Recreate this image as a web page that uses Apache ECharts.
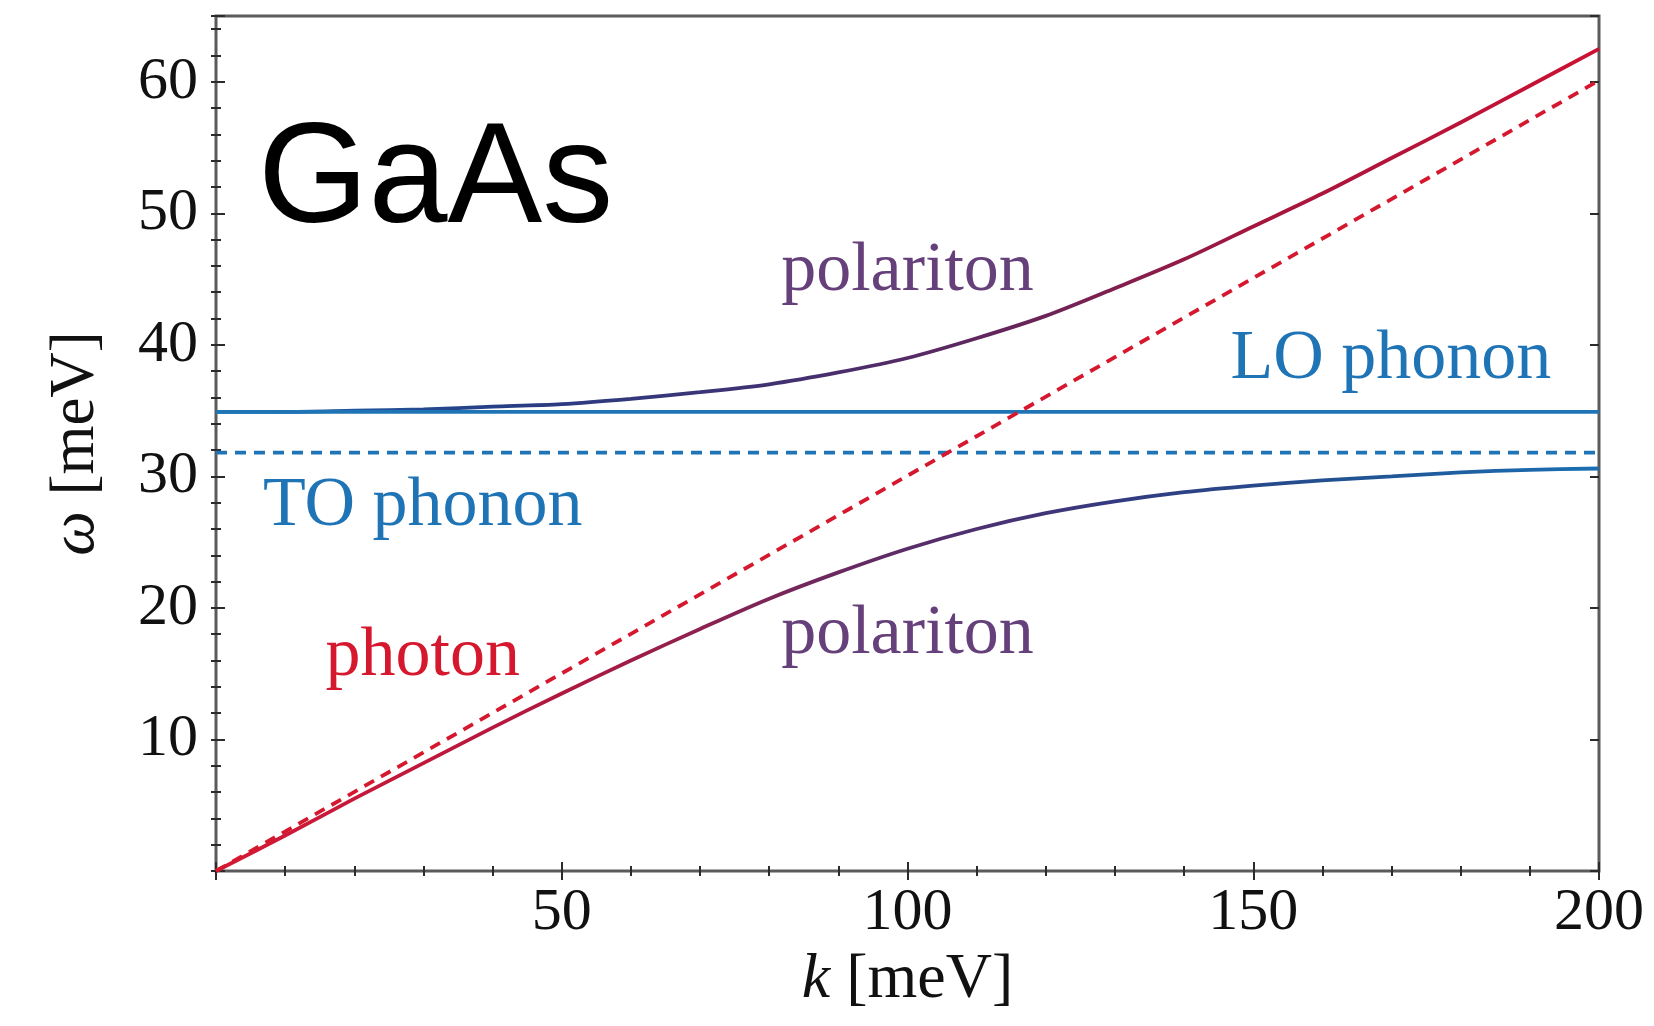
<!DOCTYPE html>
<html>
<head>
<meta charset="utf-8">
<title>GaAs phonon-polariton dispersion</title>
<script src="https://cdn.jsdelivr.net/npm/echarts@6/dist/echarts.min.js"></script>
<style>
  html, body { margin: 0; padding: 0; background: #ffffff; }
  #chart { width: 1654px; height: 1026px; }
</style>
</head>
<body>
<div id="chart"></div>
<script>
// Wavevector samples k (meV) and the two polariton branches ω(k) (meV)
const kSamples = [0, 10, 20, 30, 40, 50, 60, 70, 80, 90, 100, 110, 120, 130, 140, 150, 160, 170, 180, 190, 200];
const upperPolariton = [34.9, 34.9, 35.0, 35.1, 35.3, 35.5, 35.9, 36.4, 37.0, 37.9, 39.0, 40.5, 42.2, 44.3, 46.5, 49.0, 51.5, 54.2, 56.9, 59.7, 62.5];
const lowerPolariton = [0, 2.7, 5.5, 8.2, 10.9, 13.5, 16.0, 18.4, 20.7, 22.7, 24.5, 26.0, 27.2, 28.1, 28.8, 29.3, 29.7, 30.0, 30.3, 30.5, 30.6];

// Bare photon line and the two optical phonon levels
const photonK = [0, 200];
const photonOmega = [0, 60.1];
const phononK = [0, 200];
const loPhonon = [34.9, 34.9];
const toPhonon = [31.8, 31.8];

// Tick labels
const xTickLabels = [50, 100, 150, 200];
const yTickLabels = [10, 20, 30, 40, 50, 60];

const zip = (xs, ys) => xs.map((x, i) => [x, ys[i]]);

const SERIF = '"Liberation Serif", "DejaVu Serif", serif';
const FRAME = '#5b5b5b';
const TICK = '#2b2b2b';
const BLUE = '#1f74b6';
const RED = '#d6182f';
const PURPLE = '#66407a';

const grad = (stops) => new echarts.graphic.LinearGradient(0, 0, 1, 0,
  stops.map(([offset, color]) => ({ offset, color })));

const gridRect = { left: 216, top: 16, width: 1383, height: 855 };

const tickStyle = { color: TICK, width: 2 };

function textMark(text, color, coord) {
  return {
    symbol: 'circle',
    symbolSize: 1,
    silent: true,
    itemStyle: { color: 'rgba(0,0,0,0)' },
    label: {
      show: true, position: 'inside', formatter: text,
      color, fontFamily: SERIF, fontSize: 70
    },
    data: [{ coord }]
  };
}

const chart = echarts.init(document.getElementById('chart'), null, { renderer: 'canvas' });

chart.setOption({
  animation: false,
  backgroundColor: '#ffffff',
  grid: [
    Object.assign({ show: true, borderColor: FRAME, borderWidth: 3, backgroundColor: 'transparent' }, gridRect),
    Object.assign({ show: false }, gridRect)
  ],
  xAxis: [
    {
      gridIndex: 0, type: 'value', position: 'bottom', min: 0, max: 200, interval: 50,
      axisLine: { show: false },
      axisTick: { show: true, inside: true, length: 9, lineStyle: tickStyle },
      minorTick: { show: true, splitNumber: 5, length: 5, lineStyle: tickStyle },
      splitLine: { show: false }, minorSplitLine: { show: false },
      axisLabel: {
        margin: 12, color: '#111', fontFamily: SERIF, fontSize: 60,
        formatter: (v) => xTickLabels.includes(v) ? String(v) : ''
      },
      name: '{i|k} [meV]', nameLocation: 'middle', nameGap: 72,
      nameTextStyle: {
        color: '#111', fontFamily: SERIF, fontSize: 64,
        rich: { i: { fontStyle: 'italic', fontFamily: SERIF, fontSize: 64, color: '#111' } }
      }
    },
    {
      gridIndex: 0, type: 'value', position: 'top', min: 0, max: 200, interval: 50,
      axisLine: { show: false },
      axisTick: { show: true, inside: true, length: 9, lineStyle: tickStyle },
      minorTick: { show: true, splitNumber: 5, length: 5, lineStyle: tickStyle },
      splitLine: { show: false }, minorSplitLine: { show: false },
      axisLabel: { show: false }
    },
    { gridIndex: 1, type: 'value', min: 0, max: 200, show: false }
  ],
  yAxis: [
    {
      gridIndex: 0, type: 'value', position: 'left', min: 0, max: 65, interval: 2,
      axisLine: { show: false },
      axisTick: { show: true, inside: true, length: 5, lineStyle: tickStyle },
      splitLine: { show: false }, axisLabel: { show: false }
    },
    {
      gridIndex: 0, type: 'value', position: 'right', min: 0, max: 65, interval: 2,
      axisLine: { show: false },
      axisTick: { show: true, inside: true, length: 5, lineStyle: tickStyle },
      splitLine: { show: false }, axisLabel: { show: false }
    },
    {
      gridIndex: 1, type: 'value', position: 'left', min: 0, max: 65, interval: 10,
      axisLine: { show: false },
      axisTick: { show: true, inside: true, length: 9, lineStyle: tickStyle },
      splitLine: { show: false },
      axisLabel: {
        margin: 18, color: '#111', fontFamily: SERIF, fontSize: 60,
        formatter: (v) => yTickLabels.includes(v) ? String(v) : ''
      },
      name: '{i|ω} [meV]', nameLocation: 'middle', nameGap: 108,
      nameTextStyle: {
        color: '#111', fontFamily: SERIF, fontSize: 63,
        rich: { i: { fontStyle: 'italic', fontFamily: SERIF, fontSize: 63, color: '#111' } }
      }
    },
    {
      gridIndex: 1, type: 'value', position: 'right', min: 0, max: 65, interval: 10,
      axisLine: { show: false },
      axisTick: { show: true, inside: true, length: 9, lineStyle: tickStyle },
      splitLine: { show: false }, axisLabel: { show: false }
    }
  ],
  series: [
    {
      name: 'upper polariton', type: 'line', xAxisIndex: 0, yAxisIndex: 0,
      data: zip(kSamples, upperPolariton),
      showSymbol: false, smooth: 0.3, silent: true, z: 2,
      lineStyle: {
        width: 3.8,
        color: grad([[0, '#1c6cb2'], [0.2, '#263f86'], [0.42, '#43306f'], [0.58, '#66255a'], [0.74, '#a2163f'], [1, '#cc1133']])
      },
      markPoint: textMark('polariton', PURPLE, [100, 45.6])
    },
    {
      name: 'lower polariton', type: 'line', xAxisIndex: 0, yAxisIndex: 0,
      data: zip(kSamples, lowerPolariton),
      showSymbol: false, smooth: 0.3, silent: true, z: 2,
      lineStyle: {
        width: 3.8,
        color: grad([[0, '#d41a36'], [0.25, '#b0183f'], [0.4, '#7b2658'], [0.5, '#5a2c68'], [0.65, '#343a80'], [0.8, '#22508f'], [1, '#1a6fb3']])
      },
      markPoint: textMark('polariton', PURPLE, [100, 18.0])
    },
    {
      name: 'LO phonon', type: 'line', xAxisIndex: 0, yAxisIndex: 0,
      data: zip(phononK, loPhonon),
      showSymbol: false, silent: true, z: 3,
      lineStyle: { width: 3.8, color: BLUE },
      markPoint: textMark('LO phonon', BLUE, [169.9, 38.9])
    },
    {
      name: 'TO phonon', type: 'line', xAxisIndex: 0, yAxisIndex: 0,
      data: zip(phononK, toPhonon),
      showSymbol: false, silent: true, z: 3,
      lineStyle: { width: 3.8, color: BLUE, type: [11, 8] },
      markPoint: textMark('TO phonon', BLUE, [29.9, 27.7])
    },
    {
      name: 'photon', type: 'line', xAxisIndex: 0, yAxisIndex: 0,
      data: zip(photonK, photonOmega),
      showSymbol: false, silent: true, z: 4,
      lineStyle: { width: 3.8, color: RED, type: [11, 8] },
      markPoint: textMark('photon', RED, [29.9, 16.3])
    }
  ],
  graphic: [
    {
      type: 'text', silent: true,
      style: {
        x: 258, y: 183, text: 'GaAs',
        font: '142px "Liberation Sans", Arial, sans-serif',
        fill: '#000000', align: 'left', verticalAlign: 'middle'
      }
    }
  ]
});
</script>
</body>
</html>
